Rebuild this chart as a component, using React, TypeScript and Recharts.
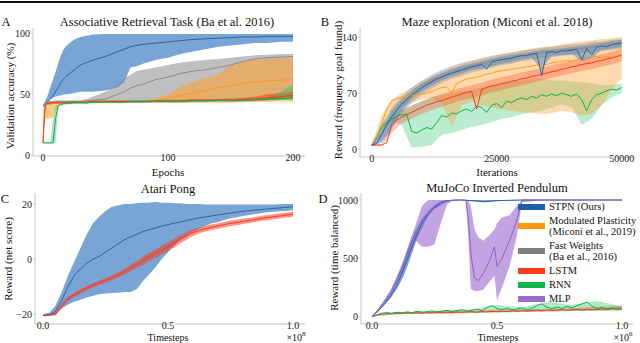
import React from "react";
import { ComposedChart, Line, Area, XAxis, YAxis } from "recharts";

const FONT = "'Times New Roman', 'Liberation Serif', Times, 'DejaVu Serif', serif";
const frame = "#c6c6c6";
const tickStyle = { fontSize: 10, fill: "#1a1a1a", fontFamily: FONT } as const;

const col = {
	stpn: { line: "#2c63a6", fill: "#3f7fc0", op: 0.7, patch: "#1f5ea8" },
	mod: { line: "#ff9a1a", fill: "#ff9f2a", op: 0.55, patch: "#ff9900" },
	fw: { line: "#8a8a8a", fill: "#8a8a8a", op: 0.55, patch: "#808080" },
	lstm: { line: "#f53b1a", fill: "#ff3b1f", op: 0.55, patch: "#ff3c14" },
	rnn: { line: "#08b34a", fill: "#1dc060", op: 0.4, patch: "#12b84a" },
	mlp: { line: "#8d5ec8", fill: "#9a68cf", op: 0.6, patch: "#9a6ccc" },
};

// ---- A: associative retrieval (epochs)
const assocEpochs = [0, 1, 2, 3, 4, 6, 8, 10, 12, 13, 14, 16, 18, 20, 25, 30, 35, 40, 50, 60, 65, 70, 75, 80, 90, 100, 110, 120, 130, 140, 150, 160, 170, 180, 190, 200];
const assocStpn = [40, 41, 42, 43, 44, 46, 49, 52, 55, 57, 59, 62, 64, 66, 70, 74, 76, 78, 81, 85, 87, 89, 90, 91, 92, 93, 94, 95, 95.5, 96, 96.5, 97, 97, 97.5, 97.5, 97.5];
const assocStpnHi = [41, 43, 45, 47, 50, 56, 62, 68, 75, 78, 81, 86, 89, 91, 95, 97, 98, 99, 99.5, 99.5, 99.5, 99.5, 99.5, 99.5, 99.5, 99.5, 99.5, 99.5, 99.5, 99.5, 99.5, 99.5, 99.5, 99.5, 99.5, 99.5];
const assocStpnLo = [40, 41, 42, 43, 44, 46, 47, 48, 48.5, 49, 49, 49.5, 50, 50, 51, 52, 52, 52, 53, 56, 60, 72, 73, 75, 78, 80, 83, 85, 87, 89, 90, 91, 92, 92, 93, 93];
const assocFw = [40, 41, 42, 42.5, 43, 43.5, 43.5, 44, 44, 44, 44, 44, 44, 44, 44, 44, 44.5, 45, 46, 50, 52, 55, 57, 58, 62, 64, 67, 69, 70, 72, 74, 77, 79, 80, 80.5, 81];
const assocFwHi = [41, 42, 43, 43.5, 44, 44.5, 44.5, 45, 45, 45, 45, 45, 45, 45, 45, 45, 46, 48, 52, 58, 63, 66, 69, 70, 72, 74, 76, 77, 78, 79, 80, 81, 82, 82.5, 83, 83];
const assocFwLo = [40, 40, 41, 42, 42.5, 43, 43, 43.5, 43.5, 43.5, 43.5, 43.5, 43.5, 43.5, 43.5, 43.5, 43.5, 43.5, 44, 44, 44, 44, 44, 44, 44.5, 45, 45, 45, 45, 45.5, 45.5, 46, 46, 46, 46, 46];
const assocMod = [10, 38, 41, 41.5, 42, 42, 42.5, 43, 43, 43, 43, 43, 43, 43, 43, 43.5, 43.5, 43.5, 43.5, 44, 44, 44, 44, 44, 45, 47, 49, 51, 53, 55, 57, 59, 60, 61, 61.5, 62];
const assocModHi = [12, 42, 43, 43, 43.5, 43.5, 43.5, 44, 44, 44, 44, 44, 44, 44, 44, 44.5, 44.5, 44.5, 44.5, 45, 45, 45, 45, 45, 46, 50, 56, 60, 63, 66, 74, 77, 78.5, 79, 79.5, 80];
const assocModLo = [10, 25, 30, 30, 30, 30, 31, 36, 40, 41, 42, 43, 43, 43, 43, 43, 43, 43, 43, 43, 43, 43, 43, 43, 43, 43, 43, 43, 43, 43, 43, 43.5, 43.5, 43.5, 44, 44];
const assocLstm = [10, 30, 41, 42, 42.5, 42.5, 43, 43, 43, 43, 43, 43, 43, 43, 43.5, 43.5, 43.5, 44, 44, 44, 44, 44, 44, 44, 44.5, 44.5, 44.5, 45, 45, 45, 45, 45.5, 46, 47, 48, 49];
const assocLstmLo = [10, 22, 39, 41, 41.5, 41.5, 42, 42, 42, 42, 42, 42, 42, 42, 42.5, 42.5, 42.5, 43, 43, 43, 43, 43, 43, 43, 43.5, 43.5, 43.5, 44, 44, 44, 44, 44, 44.5, 45, 45.5, 46];
const assocLstmHi = [10, 36, 42, 43, 43.5, 43.5, 44, 44, 44, 44, 44, 44, 44, 44, 44.5, 44.5, 44.5, 45, 45, 45, 45, 45, 45, 45, 45.5, 45.5, 45.5, 46, 46, 46, 46.5, 47, 48, 50, 51, 52];
const assocRnn = [10, 10, 10, 10, 10, 10, 10, 30, 40, 41, 41.5, 42, 42.5, 42.5, 43, 43, 43, 43.5, 43.5, 43.5, 43.5, 44, 44, 44, 44, 44, 44, 44.5, 44.5, 45, 45, 45, 45.5, 46, 46.5, 47];
const assocRnnHi = [10.5, 10.5, 10.5, 10.5, 10.5, 10.5, 30, 40, 41.5, 42, 42.5, 43, 43.5, 43.5, 44, 44, 44, 44.5, 44.5, 44.5, 44.5, 45, 45, 45, 45, 45, 45, 45.5, 45.5, 46, 46, 46, 46.5, 47, 52, 58];
const assocRnnLo = [9.5, 9.5, 9.5, 9.5, 9.5, 9.5, 9.5, 9.5, 38, 40, 40.5, 41, 41.5, 41.5, 42, 42, 42, 42.5, 42.5, 42.5, 42.5, 43, 43, 43, 43, 43, 43, 43.5, 43.5, 44, 44, 44, 44.5, 45, 45, 45.5];

// ---- B: maze exploration (iterations)
const mazeIter = [0, 1000, 2000, 3000, 4000, 5000, 6000, 7000, 8000, 9000, 10000, 11000, 12000, 13000, 14000, 15000, 16000, 17000, 18000, 19000, 20000, 21000, 22000, 23000, 24000, 25000, 26000, 27000, 28000, 29000, 30000, 31000, 32000, 33000, 34000, 35000, 36000, 37000, 38000, 39000, 40000, 41000, 42000, 43000, 44000, 45000, 46000, 47000, 48000, 49000, 50000];
const mazeBandIter = [0, 2000, 4000, 6000, 8000, 10000, 12000, 14000, 16000, 18000, 20000, 22000, 24000, 26000, 28000, 30000, 32000, 34000, 36000, 38000, 40000, 42000, 44000, 46000, 48000, 50000];
const mazeStpn = [5, 7, 18, 30, 40, 49, 56, 62, 68, 72, 77, 81, 84, 88, 90, 93, 95, 97, 99, 101, 103, 104, 106, 100, 109, 111, 112, 113, 114, 116, 117, 117, 119, 120, 92, 121, 122, 121, 123, 123, 124, 125, 112, 126, 118, 128, 129, 128, 131, 132, 133];
const mazeStpnLo = [4, 8, 25, 48, 63, 72, 80, 86, 91, 95, 99, 101, 104, 107, 109, 112, 114, 100, 117, 118, 119, 110, 114, 124, 126, 128];
const mazeStpnHi = [6, 22, 48, 62, 73, 82, 89, 95, 100, 104, 107, 110, 113, 116, 118, 120, 122, 124, 125, 126, 128, 129, 131, 133, 135, 137];
const mazeFw = [5, 20, 40, 56, 67, 77, 85, 91, 96, 100, 104, 107, 110, 112, 114, 117, 119, 121, 122, 124, 125, 126, 128, 129, 131, 132];
const mazeFwLo = [4, 10, 28, 45, 58, 68, 76, 83, 88, 92, 96, 99, 102, 105, 107, 110, 112, 114, 115, 117, 118, 120, 121, 123, 124, 126];
const mazeFwHi = [6, 30, 52, 66, 77, 86, 93, 99, 104, 108, 111, 114, 117, 119, 121, 123, 125, 127, 128, 130, 131, 132, 134, 135, 137, 138];
const mazeMod = [5, 15, 32, 50, 60, 63, 65, 66, 67, 68, 69, 70, 72, 75, 77, 78, 70, 82, 85, 88, 89, 90, 92, 94, 95, 97, 98, 99, 100, 101, 102, 103, 104, 105, 106, 106, 108, 109, 110, 111, 110, 112, 113, 106, 115, 116, 114, 116, 115, 117, 115];
const mazeModLo = [4, 25, 42, 52, 58, 62, 64, 58, 28, 55, 60, 55, 52, 50, 48, 46, 45, 44, 45, 48, 46, 42, 44, 55, 75, 88];
const mazeModHi = [6, 42, 62, 70, 77, 84, 91, 97, 102, 106, 110, 113, 116, 119, 121, 124, 126, 128, 129, 131, 133, 135, 136, 138, 139, 141];
const mazeLstm = [5, 5, 5, 8, 30, 36, 40, 43, 46, 49, 52, 55, 57, 59, 61, 63, 65, 67, 69, 71, 72, 50, 75, 77, 79, 80, 82, 83, 85, 86, 88, 89, 91, 92, 94, 95, 97, 98, 100, 101, 103, 104, 106, 107, 108, 110, 111, 113, 114, 116, 118];
const mazeLstmLo = [4, 4, 20, 32, 38, 44, 49, 53, 57, 61, 64, 67, 71, 74, 77, 80, 83, 86, 89, 92, 95, 98, 100, 103, 106, 110];
const mazeLstmHi = [6, 6, 36, 48, 54, 60, 65, 69, 73, 77, 80, 83, 87, 90, 93, 96, 99, 102, 105, 108, 111, 114, 116, 119, 122, 126];
const mazeRnn = [5, 15, 27, 33, 38, 41, 43, 44, 22, 20, 24, 27, 25, 33, 42, 40, 45, 44, 48, 50, 47, 54, 52, 46, 55, 57, 52, 60, 58, 62, 64, 62, 66, 64, 68, 66, 69, 67, 70, 68, 66, 69, 62, 48, 62, 68, 70, 73, 75, 74, 77];
const mazeRnnLo = [4, 22, 35, 30, 2, 3, 5, 18, 20, 24, 28, 30, 34, 38, 40, 44, 46, 48, 52, 56, 52, 30, 38, 55, 65, 70];
const mazeRnnHi = [6, 32, 44, 50, 55, 60, 64, 68, 70, 72, 74, 77, 80, 82, 84, 86, 88, 88, 86, 86, 85, 84, 82, 80, 80, 82];

// ---- C: Atari Pong (timesteps, x1e8)
const pongSteps = [0, 0.025, 0.05, 0.075, 0.1, 0.125, 0.15, 0.175, 0.2, 0.225, 0.25, 0.275, 0.3, 0.325, 0.35, 0.375, 0.4, 0.425, 0.45, 0.475, 0.5, 0.525, 0.55, 0.575, 0.6, 0.625, 0.65, 0.675, 0.7, 0.725, 0.75, 0.775, 0.8, 0.825, 0.85, 0.875, 0.9, 0.925, 0.95, 0.975, 1];
const pongStpn = [-20.5, -20.3, -19, -15, -10, -6, -3.5, -1.5, 0, 1, 2.5, 4, 5.5, 7, 8, 9, 10, 10.7, 11.3, 12, 12.5, 13, 13.5, 14, 14.5, 15, 15.3, 15.7, 16, 16.4, 16.7, 17, 17.3, 17.6, 17.8, 18, 18.2, 18.4, 18.6, 18.8, 19];
const pongStpnHi = [-20, -19.5, -17, -12, -6, -1, 4, 9, 13, 15.5, 17.5, 19, 19.5, 20, 20, 20.3, 20.5, 20.5, 20.8, 20.5, 20.5, 20.3, 20.3, 20, 20, 20, 19.8, 19.8, 19.8, 19.8, 19.8, 19.8, 19.8, 19.8, 19.8, 19.8, 19.8, 19.8, 19.9, 20, 20];
const pongStpnLo = [-20.5, -20.5, -20, -18, -16.5, -15.5, -14.8, -14, -13.3, -12.8, -12.5, -12.3, -12.2, -12, -12, -11, -8, -5.5, -3, 0, 2.5, 5, 7, 8.5, 10, 11, 12, 13, 13.5, 14.2, 14.8, 15.2, 15.6, 16, 16.4, 16.7, 17, 17.2, 17.4, 17.5, 17.7];
const pongLstm = [-20.5, -20.4, -20, -17, -14.5, -13, -11.8, -10.5, -9.5, -8.7, -7.8, -6.8, -5.8, -4.6, -3.2, -2, -0.6, 0.8, 2, 3.2, 4.5, 5.8, 7.2, 8.5, 9.6, 10.4, 11, 11.6, 12, 12.5, 13, 13.3, 13.7, 14, 14.4, 14.8, 15.1, 15.4, 15.7, 16, 16.3];
const pongLstmSpread = [0.3, 0.3, 0.5, 0.8, 0.8, 0.8, 0.8, 0.8, 0.8, 0.8, 0.8, 0.8, 1, 1, 1.2, 1.2, 1.5, 1.5, 1.5, 1.6, 1.6, 1.6, 1.5, 1.4, 1.2, 1, 1, 1, 1, 1, 1, 1, 1, 0.9, 0.9, 0.9, 0.9, 0.9, 0.9, 0.9, 0.9];

// ---- D: MuJoCo inverted pendulum (timesteps, x1e6)
const pendStpnSteps = [0, 0.025, 0.05, 0.075, 0.1, 0.125, 0.15, 0.175, 0.2, 0.225, 0.25, 0.275, 0.3, 0.35, 0.4, 0.45, 0.5, 0.6, 0.7, 0.8, 0.9, 1];
const pendStpn = [0, 50, 110, 180, 270, 400, 540, 680, 800, 880, 940, 975, 995, 1000, 995, 985, 995, 1000, 1000, 1000, 1000, 1000];
const pendStpnLo = [0, 45, 100, 160, 240, 340, 480, 640, 760, 860, 930, 965, 990, 1000, 990, 980, 990, 1000, 1000, 1000, 1000, 1000];
const pendStpnHi = [0, 55, 120, 200, 330, 470, 620, 740, 840, 910, 960, 990, 1000, 1000, 1000, 1000, 1000, 1000, 1000, 1000, 1000, 1000];
const pendMlpSteps = [0, 0.025, 0.05, 0.075, 0.1, 0.125, 0.15, 0.175, 0.2, 0.225, 0.25, 0.275, 0.3, 0.325, 0.35, 0.375, 0.385, 0.395, 0.41, 0.425, 0.445, 0.47, 0.49, 0.5, 0.52, 0.55, 0.58, 0.6, 0.7, 0.8, 0.9, 1];
const pendMlp = [0, 60, 130, 210, 320, 440, 590, 730, 830, 880, 930, 960, 990, 1000, 1000, 1000, 850, 550, 330, 310, 370, 480, 600, 430, 500, 650, 830, 1000, 1000, 1000, 1000, 1000];
const pendMlpLo = [0, 50, 110, 190, 290, 400, 540, 650, 600, 600, 620, 800, 960, 1000, 1000, 1000, 700, 240, 220, 220, 230, 300, 350, 140, 250, 430, 700, 980, 1000, 1000, 1000, 1000];
const pendMlpHi = [0, 70, 150, 230, 350, 480, 640, 790, 950, 1000, 1000, 1000, 1000, 1000, 1000, 1000, 1000, 950, 750, 680, 650, 700, 750, 800, 850, 870, 950, 1000, 1000, 1000, 1000, 1000];
const pendNoiseSteps = [0, 0.02, 0.04, 0.06, 0.08, 0.1, 0.12, 0.14, 0.16, 0.18, 0.2, 0.22, 0.24, 0.26, 0.28, 0.3, 0.32, 0.34, 0.36, 0.38, 0.4, 0.42, 0.44, 0.46, 0.48, 0.5, 0.52, 0.54, 0.56, 0.58, 0.6, 0.62, 0.64, 0.66, 0.68, 0.7, 0.72, 0.74, 0.76, 0.78, 0.8, 0.82, 0.84, 0.86, 0.88, 0.9, 0.92, 0.94, 0.96, 0.98, 1];
const pendLstm = [0, 14, 22, 26, 28, 30, 28, 32, 30, 33, 31, 35, 33, 36, 34, 38, 35, 40, 37, 41, 42, 39, 44, 41, 46, 43, 47, 44, 50, 46, 52, 48, 51, 55, 50, 57, 53, 56, 60, 55, 58, 62, 57, 64, 60, 63, 66, 61, 68, 75, 70];
const pendRnn = [0, 18, 30, 35, 28, 38, 32, 40, 35, 45, 38, 42, 50, 40, 48, 55, 45, 52, 60, 48, 55, 65, 52, 80, 95, 70, 60, 72, 58, 65, 75, 60, 70, 95, 110, 80, 68, 85, 70, 90, 75, 95, 110, 125, 90, 70, 80, 65, 75, 60, 70];
const pendBandSteps = [0, 0.1, 0.2, 0.3, 0.4, 0.5, 0.6, 0.7, 0.8, 0.9, 1];
const pendLstmLo = [0, 20, 25, 28, 32, 36, 40, 45, 48, 52, 55];
const pendLstmHi = [0, 38, 42, 48, 52, 60, 62, 70, 75, 85, 95];
const pendRnnLo = [0, 22, 25, 28, 32, 38, 40, 45, 48, 50, 55];
const pendRnnHi = [0, 42, 45, 55, 62, 100, 80, 125, 100, 135, 90];

const legendItems = [
	{ key: "stpn", label: ["STPN (Ours)"] },
	{ key: "mod", label: ["Modulated Plasticity", "(Miconi et al., 2019)"] },
	{ key: "fw", label: ["Fast Weights", "(Ba et al., 2016)"] },
	{ key: "lstm", label: ["LSTM"] },
	{ key: "rnn", label: ["RNN"] },
	{ key: "mlp", label: ["MLP"] },
] as const;

const pts = (xs: number[], ys: number[]) => xs.map((x, i) => ({ x, y: ys[i] }));
const rng = (xs: number[], lo: number[], hi: number[]) => xs.map((x, i) => ({ x, r: [lo[i], hi[i]] }));
const rngSpread = (xs: number[], m: number[], s: number[]) => xs.map((x, i) => ({ x, r: [m[i] - s[i], m[i] + s[i]] }));

const minus = (v: number) => (v < 0 ? "\u2212" + Math.abs(v) : String(v));

type Key = keyof typeof col;

const band = (k: Key, data: { x: number; r: number[] }[], id: string, op?: number) => (
	<Area key={"b" + id} data={data} dataKey="r" type="linear" stroke="none" fill={col[k].fill} fillOpacity={op ?? col[k].op} isAnimationActive={false} dot={false} activeDot={false} />
);
const line = (k: Key, data: { x: number; y: number }[], id: string) => (
	<Line key={"l" + id} data={data} dataKey="y" type="linear" stroke={col[k].line} strokeWidth={1} dot={false} activeDot={false} isAnimationActive={false} />
);

const Txt = ({ x, y, size = 11, rot = false, children }: { x: number; y: number; size?: number; rot?: boolean; children: React.ReactNode }) => (
	<div
		style={{
			position: "absolute",
			left: x,
			top: y,
			transform: `translate(-50%, -50%)${rot ? " rotate(-90deg)" : ""}`,
			fontSize: size,
			fontFamily: FONT,
			color: "#111",
			whiteSpace: "nowrap",
			lineHeight: 1,
		}}
	>
		{children}
	</div>
);

interface IFrameProps {
	xDomain: [number, number];
	yDomain: [number, number];
	xTicks: number[];
	yTicks: number[];
	yWidth: number;
	xHeight: number;
	xFmt?: (v: number) => string;
}

const axes = ({ xDomain, yDomain, xTicks, yTicks, yWidth, xHeight, xFmt }: IFrameProps) => [
	<XAxis key="xb" type="number" dataKey="x" domain={xDomain} ticks={xTicks} allowDataOverflow tick={tickStyle} tickSize={0} tickMargin={-2} height={xHeight} axisLine={{ stroke: frame }} tickLine={false} tickFormatter={xFmt} interval={0} />,
	<XAxis key="xt" xAxisId="top" orientation="top" type="number" dataKey="x" domain={xDomain} ticks={xTicks} allowDataOverflow tick={false} tickLine={false} height={0} axisLine={{ stroke: frame }} />,
	<YAxis key="yl" type="number" domain={yDomain} ticks={yTicks} allowDataOverflow tick={tickStyle} tickSize={2} tickMargin={1} width={yWidth} axisLine={{ stroke: frame }} tickLine={{ stroke: frame }} tickFormatter={minus} interval={0} />,
	<YAxis key="yr" yAxisId="right" orientation="right" type="number" domain={yDomain} ticks={yTicks} allowDataOverflow tick={false} tickLine={false} width={0} axisLine={{ stroke: frame }} />,
];

const PanelA = () => (
	<ComposedChart width={320} height={178} margin={{ top: 28, right: 15, bottom: 0, left: 0 }}>
		{axes({ xDomain: [-8, 209.6], yDomain: [-0.8, 104.4], xTicks: [0, 100, 200], yTicks: [0, 50, 100], yWidth: 33, xHeight: 22 })}
		{band("stpn", rng(assocEpochs, assocStpnLo, assocStpnHi), "a1")}
		{band("fw", rng(assocEpochs, assocFwLo, assocFwHi), "a2")}
		{band("mod", rng(assocEpochs, assocModLo, assocModHi), "a3")}
		{band("lstm", rng(assocEpochs, assocLstmLo, assocLstmHi), "a4")}
		{band("rnn", rng(assocEpochs, assocRnnLo, assocRnnHi), "a5")}
		{line("stpn", pts(assocEpochs, assocStpn), "a1")}
		{line("fw", pts(assocEpochs, assocFw), "a2")}
		{line("mod", pts(assocEpochs, assocMod), "a3")}
		{line("lstm", pts(assocEpochs, assocLstm), "a4")}
		{line("rnn", pts(assocEpochs, assocRnn), "a5")}
	</ComposedChart>
);

const PanelB = () => (
	<ComposedChart width={320} height={178} margin={{ top: 28, right: 5, bottom: 0, left: 0 }}>
		{axes({ xDomain: [-2340, 52660], yDomain: [-10, 151.7], xTicks: [0, 25000, 50000], yTicks: [0, 70, 140], yWidth: 40, xHeight: 21 })}
		{band("rnn", rng(mazeBandIter, mazeRnnLo, mazeRnnHi), "b5", 0.3)}
		{band("mod", rng(mazeBandIter, mazeModLo, mazeModHi), "b3", 0.38)}
		{band("fw", rng(mazeBandIter, mazeFwLo, mazeFwHi), "b2", 0.4)}
		{band("lstm", rng(mazeBandIter, mazeLstmLo, mazeLstmHi), "b4", 0.3)}
		{band("stpn", rng(mazeBandIter, mazeStpnLo, mazeStpnHi), "b1", 0.45)}
		{line("fw", pts(mazeBandIter, mazeFw), "b2")}
		{line("rnn", pts(mazeIter, mazeRnn), "b5")}
		{line("mod", pts(mazeIter, mazeMod), "b3")}
		{line("lstm", pts(mazeIter, mazeLstm), "b4")}
		{line("stpn", pts(mazeIter, mazeStpn), "b1")}
	</ComposedChart>
);

const PanelC = () => (
	<ComposedChart width={320} height={178} margin={{ top: 28, right: 15, bottom: 0, left: 0 }}>
		{axes({ xDomain: [-0.032, 1.048], yDomain: [-23.6, 24], xTicks: [0, 0.5, 1], yTicks: [-20, 0, 20], yWidth: 35, xHeight: 19, xFmt: (v) => v.toFixed(1) })}
		{band("stpn", rng(pongSteps, pongStpnLo, pongStpnHi), "c1")}
		{band("lstm", rngSpread(pongSteps, pongLstm, pongLstmSpread), "c4")}
		{line("stpn", pts(pongSteps, pongStpn), "c1")}
		{line("lstm", pts(pongSteps, pongLstm), "c4")}
	</ComposedChart>
);

const PanelD = () => (
	<ComposedChart width={320} height={178} margin={{ top: 28, right: 7, bottom: 0, left: 0 }}>
		{axes({ xDomain: [-0.044, 1.044], yDomain: [-62.6, 1060], xTicks: [0, 0.5, 1], yTicks: [0, 500, 1000], yWidth: 41, xHeight: 19, xFmt: (v) => v.toFixed(1) })}
		{band("lstm", rng(pendBandSteps, pendLstmLo, pendLstmHi), "d4", 0.35)}
		{band("rnn", rng(pendBandSteps, pendRnnLo, pendRnnHi), "d5", 0.35)}
		{band("stpn", rng(pendStpnSteps, pendStpnLo, pendStpnHi), "d1")}
		{band("mlp", rng(pendMlpSteps, pendMlpLo, pendMlpHi), "d6")}
		{line("lstm", pts(pendNoiseSteps, pendLstm), "d4")}
		{line("rnn", pts(pendNoiseSteps, pendRnn), "d5")}
		{line("stpn", pts(pendStpnSteps, pendStpn), "d1")}
		{line("mlp", pts(pendMlpSteps, pendMlp), "d6")}
	</ComposedChart>
);

const Legend = () => (
	<div style={{ position: "absolute", left: 518, top: 201, display: "flex", flexDirection: "column", gap: 3, fontFamily: FONT, fontSize: 10.5, color: "#111" }}>
		{legendItems.map((it) => (
			<div key={it.key} style={{ display: "flex", alignItems: "center", height: it.label.length * 11 }}>
				<div style={{ width: 27, height: 6, background: col[it.key].patch, marginRight: 4, flex: "none" }} />
				<div style={{ lineHeight: "11px", whiteSpace: "nowrap" }}>
					{it.label.map((l) => (
						<div key={l}>{l}</div>
					))}
				</div>
			</div>
		))}
	</div>
);

export default function App() {
	return (
		<div style={{ position: "absolute", left: 0, top: 0, width: 640, height: 343, background: "#fff", overflow: "hidden" }}>
			<div style={{ position: "absolute", left: 0, top: 1, width: 640, height: 2, background: "#111" }} />
			<div style={{ position: "absolute", left: 0, top: 0 }}><PanelA /></div>
			<div style={{ position: "absolute", left: 320, top: 0 }}><PanelB /></div>
			<div style={{ position: "absolute", left: 0, top: 165 }}><PanelC /></div>
			<div style={{ position: "absolute", left: 320, top: 165 }}><PanelD /></div>
			<Legend />

			<Txt x={6} y={22} size={12.5}>A</Txt>
			<Txt x={167} y={22} size={12.5}>Associative Retrieval Task (Ba et al. 2016)</Txt>
			<Txt x={10} y={96} rot>Validation accuracy (%)</Txt>
			<Txt x={168} y={172}>Epochs</Txt>

			<Txt x={325} y={22} size={12.5}>B</Txt>
			<Txt x={497} y={22} size={12.5}>Maze exploration (Miconi et al. 2018)</Txt>
			<Txt x={338} y={90} rot>Reward (frequency goal found)</Txt>
			<Txt x={497} y={172}>Iterations</Txt>

			<Txt x={5} y={199} size={12.5}>C</Txt>
			<Txt x={168} y={189} size={12.5}>Atari Pong</Txt>
			<Txt x={8} y={259} rot>Reward (net score)</Txt>
			<Txt x={168} y={338} size={10}>Timesteps</Txt>
			<Txt x={296} y={337} size={10}>
				×10<sup style={{ fontSize: 7 }}>8</sup>
			</Txt>

			<Txt x={323} y={199} size={12.5}>D</Txt>
			<Txt x={497} y={188} size={12.5}>MuJoCo Inverted Pendulum</Txt>
			<Txt x={334} y={258} rot>Reward (time balanced)</Txt>
			<Txt x={498} y={338} size={10}>Timesteps</Txt>
			<Txt x={623} y={337} size={10}>
				×10<sup style={{ fontSize: 7 }}>6</sup>
			</Txt>
		</div>
	);
}
